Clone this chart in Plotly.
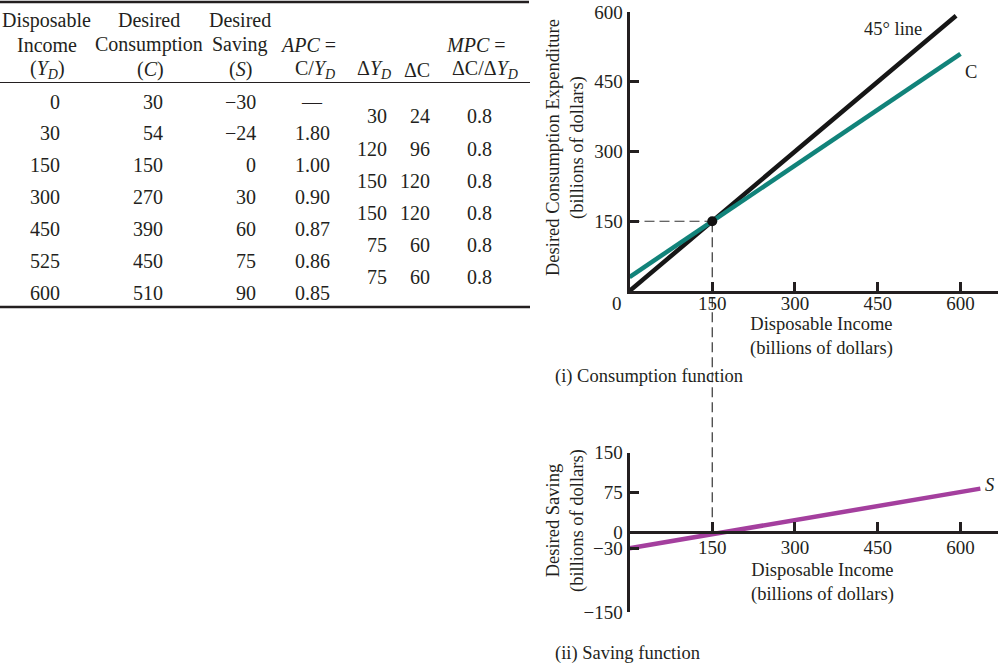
import plotly.graph_objects as go

# ---------------- data ----------------
income = [0, 30, 150, 300, 450, 525, 600]
consumption = [30, 54, 150, 270, 390, 450, 510]
saving = [-30, -24, 0, 30, 60, 75, 90]
apc = ["—", "1.80", "1.00", "0.90", "0.87", "0.86", "0.85"]
d_income = [30, 120, 150, 150, 75, 75]
d_cons = [24, 96, 120, 120, 60, 60]
mpc = ["0.8", "0.8", "0.8", "0.8", "0.8", "0.8"]

line45_x = [0, 592]
line45_y = [0, 592]
s_line_x = [0, 636]
s_line_y = [-30, 82]
eq_income = 150
eq_cons = 150

x_ticks = [150, 300, 450, 600]
top_y_ticks = [150, 300, 450, 600]
bot_y_ticks = [-150, -30, 0, 75, 150]

# ---------------- styling ----------------
FONT = "Liberation Serif"
INK = "#231f20"
TEAL = "#11837a"
MAGENTA = "#a43f9e"
W, H = 1000, 664


def PX(x):
    return x / W


def PY(y):
    return 1 - y / H


def num(v):
    return str(v).replace("-", "\u2212")


fig = go.Figure()

fig.add_trace(go.Scatter(x=line45_x, y=line45_y, mode="lines",
                         line=dict(color="#161616", width=4.5),
                         xaxis="x", yaxis="y", showlegend=False, hoverinfo="skip"))
fig.add_trace(go.Scatter(x=income, y=consumption, mode="lines",
                         line=dict(color=TEAL, width=4.5),
                         xaxis="x", yaxis="y", showlegend=False, hoverinfo="skip"))
fig.add_trace(go.Scatter(x=[eq_income], y=[eq_cons], mode="markers",
                         marker=dict(color="#111111", size=10),
                         xaxis="x", yaxis="y", showlegend=False, hoverinfo="skip"))
fig.add_trace(go.Scatter(x=s_line_x, y=s_line_y, mode="lines",
                         line=dict(color=MAGENTA, width=4.5),
                         xaxis="x2", yaxis="y2", showlegend=False, hoverinfo="skip",
                         cliponaxis=False))

xdom = [PX(629.5), PX(998)]
xrange_ = [0, 668]
top_dom = [PY(291), PY(12)]
bot_dom = [PY(612), PY(452.5)]
bot_range = [-150, 150]
bot_axis_pos = bot_dom[0] + (0 - bot_range[0]) / (bot_range[1] - bot_range[0]) * (bot_dom[1] - bot_dom[0])

axis_common = dict(showline=True, linecolor=INK, linewidth=3, ticks="inside",
                   ticklen=9, tickwidth=2.5, tickcolor=INK, showgrid=False,
                   zeroline=False, tickfont=dict(family=FONT, size=19, color=INK),
                   fixedrange=True, automargin=False)

fig.update_layout(
    width=W, height=H, autosize=False,
    margin=dict(l=0, r=0, t=0, b=0, pad=0, autoexpand=False),
    showlegend=False,
    paper_bgcolor="white", plot_bgcolor="rgba(0,0,0,0)",
    font=dict(family=FONT, color=INK, size=18),
    xaxis=dict(domain=xdom, range=xrange_, anchor="y", tickvals=x_ticks,
               ticklabelstandoff=-7, **axis_common),
    yaxis=dict(domain=top_dom, range=[0, 600], anchor="x", tickvals=top_y_ticks, **axis_common),
    xaxis2=dict(domain=xdom, range=xrange_, anchor="free", position=bot_axis_pos,
                tickvals=x_ticks, ticklabelstandoff=-3, **axis_common),
    yaxis2=dict(domain=bot_dom, range=bot_range, anchor="x2",
                tickvals=bot_y_ticks, ticktext=[num(v) for v in bot_y_ticks], **axis_common),
)

dash = "10px,5px"
fig.add_shape(type="line", xref="x", yref="y", x0=0, x1=eq_income, y0=eq_cons, y1=eq_cons,
              line=dict(color="#333333", width=1.2, dash=dash), layer="below")
top_eq_paper = top_dom[0] + eq_cons / 600 * (top_dom[1] - top_dom[0])
fig.add_shape(type="line", xref="x", yref="paper", x0=eq_income, x1=eq_income,
              y0=bot_axis_pos, y1=top_eq_paper,
              line=dict(color="#333333", width=1.2, dash=dash), layer="below")

ann = []


def text(x, y, s, size=20, xanchor="center", yanchor="middle", angle=0, align="center"):
    ann.append(dict(x=PX(x), y=PY(y), xref="paper", yref="paper", text=s,
                    showarrow=False, xanchor=xanchor, yanchor=yanchor,
                    textangle=angle, align=align,
                    font=dict(family=FONT, size=size, color=INK)))


TS = 18.5
text(617, 303, "0", size=19)
text(893, 29, "45° line", size=TS)
text(971, 72, "C", size=TS)
text(989, 485, "<i>S</i>", size=TS)
text(565, 148, "Desired Consumption Expenditure<br>(billions of dollars)", size=TS, angle=-90)
text(821, 336, "Disposable Income<br>(billions of dollars)", size=TS)
text(565, 521, "Desired Saving<br>(billions of dollars)", size=TS, angle=-90)
text(822, 582, "Disposable Income<br>(billions of dollars)", size=TS)
text(553, 376, "(i) Consumption function", size=TS, xanchor="left")
text(553, 653, "(ii) Saving function", size=TS, xanchor="left")

YD = "<i>Y<sub>D</sub></i>"
text(46, 20, "Disposable")
text(47, 45, "Income")
text(47, 70, "(" + YD + ")")
text(149, 20, "Desired")
text(149, 45, "Consumption")
text(150, 70, "(<i>C</i>)")
text(240, 20, "Desired")
text(240, 45, "Saving")
text(240, 70, "(<i>S</i>)")
text(338, 45, "<i>APC</i> =", xanchor="right")
text(337, 70, "C/" + YD, xanchor="right")
text(393, 70, "Δ" + YD, xanchor="right")
text(432, 70, "ΔC", xanchor="right")
text(508, 45, "<i>MPC</i> =", xanchor="right")
text(520, 70, "ΔC/Δ" + YD, xanchor="right")

for i in range(len(income)):
    y = 101.5 + 31.9 * i
    text(62, y, num(income[i]), xanchor="right")
    text(165, y, num(consumption[i]), xanchor="right")
    text(258, y, num(saving[i]), xanchor="right")
    text(312, y, apc[i])
for i in range(len(d_income)):
    y = 116.5 + 32.1 * i
    text(389, y, num(d_income[i]), xanchor="right")
    text(432, y, num(d_cons[i]), xanchor="right")
    text(479, y, mpc[i])

fig.update_layout(annotations=ann)

fig.add_shape(type="line", xref="paper", yref="paper", x0=0, x1=PX(529), y0=PY(2), y1=PY(2),
              line=dict(color=INK, width=2.5))
fig.add_shape(type="line", xref="paper", yref="paper", x0=0, x1=PX(530), y0=PY(82.5), y1=PY(82.5),
              line=dict(color=INK, width=1.2))
fig.add_shape(type="line", xref="paper", yref="paper", x0=0, x1=PX(530), y0=PY(307), y1=PY(307),
              line=dict(color=INK, width=2.5))

fig.write_html("out.html")
